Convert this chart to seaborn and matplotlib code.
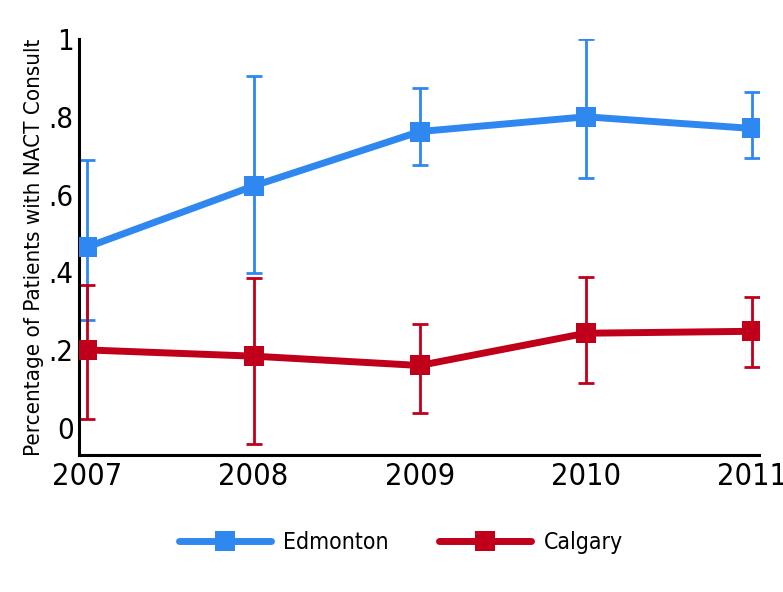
import pandas as pd
import numpy as np
import matplotlib
matplotlib.use('Agg')
import matplotlib.pyplot as plt
import seaborn as sns

# values
years = [2007, 2008, 2009, 2010, 2011]
edmonton = [0.465, 0.622, 0.762, 0.800, 0.770]
edmonton_lo = [0.277, 0.398, 0.676, 0.642, 0.694]
edmonton_hi = [0.690, 0.905, 0.875, 1.000, 0.864]
calgary = [0.200, 0.184, 0.160, 0.243, 0.248]
calgary_lo = [0.022, -0.042, 0.037, 0.115, 0.156]
calgary_hi = [0.367, 0.385, 0.266, 0.387, 0.336]
y_ticks = [0, 0.2, 0.4, 0.6, 0.8, 1.0]
y_ticklabels = ['0', '.2', '.4', '.6', '.8', '1']

blue = '#2f88f0'
red = '#c0001a'

sns.set_style('white')
plt.rcParams['font.family'] = ['DejaVu Sans']
plt.rcParams['font.stretch'] = 'condensed'
plt.rcParams['text.color'] = 'black'
plt.rcParams['axes.labelcolor'] = 'black'

df = pd.DataFrame({
    'year': years * 2,
    'pct': edmonton + calgary,
    'city': ['Edmonton'] * 5 + ['Calgary'] * 5,
})

fig = plt.figure(figsize=(7.83, 5.92), dpi=100)
ax = fig.add_axes([0.101, 0.231, 0.868, 0.703])

# error bars first so the markers sit on top
for vals, lo, hi, col in [(edmonton, edmonton_lo, edmonton_hi, blue),
                          (calgary, calgary_lo, calgary_hi, red)]:
    v = np.array(vals)
    yerr = [v - np.array(lo), np.array(hi) - v]
    ax.errorbar(years, v, yerr=yerr, fmt='none', ecolor=col,
                elinewidth=2, capsize=6, capthick=2, zorder=1)

sns.lineplot(data=df, x='year', y='pct', hue='city',
             palette={'Edmonton': blue, 'Calgary': red},
             marker='s', markersize=14, markeredgewidth=0,
             linewidth=5, ax=ax, zorder=3)

ax.set_xlim(2006.95, 2011.04)
ax.set_ylim(-0.071, 1.0)
ax.set_xticks(years)
ax.set_xticklabels([str(y) for y in years], fontsize=22)
ax.set_yticks(y_ticks)
ax.set_yticklabels(y_ticklabels, fontsize=21)
ax.set_xlabel('')
ax.set_ylabel('Percentage of Patients with NACT Consult', fontsize=16, labelpad=3)

for side in ['top', 'right']:
    ax.spines[side].set_visible(False)
for side in ['left', 'bottom']:
    ax.spines[side].set_linewidth(2.2)
    ax.spines[side].set_color('black')
ax.tick_params(axis='y', direction='in', length=12, width=2.2, pad=4, colors='black')
ax.tick_params(axis='x', direction='in', length=9, width=2.2, pad=5, colors='black')

ax.legend_.remove()
handles, labels = ax.get_legend_handles_labels()
fig.legend(handles, labels, loc='center', bbox_to_anchor=(0.512, 0.083),
           ncol=2, frameon=False, fontsize=16.5, handlelength=4.0,
           columnspacing=2.2, handletextpad=0.55)

fig.savefig('out.png', dpi=100)
